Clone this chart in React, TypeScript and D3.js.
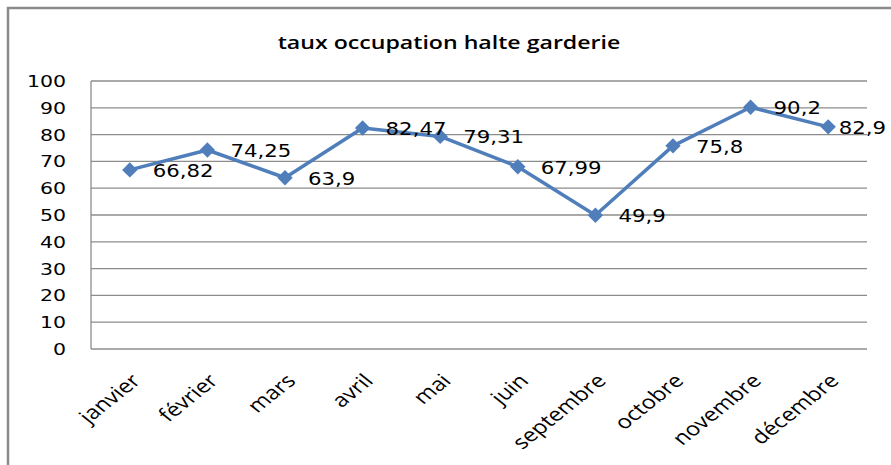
import React from "react";
import * as d3 from "d3";

const months = ["janvier", "février", "mars", "avril", "mai", "juin", "septembre", "octobre", "novembre", "décembre"];
const values = [66.82, 74.25, 63.9, 82.47, 79.31, 67.99, 49.9, 75.8, 90.2, 82.9];
const valueLabels = ["66,82", "74,25", "63,9", "82,47", "79,31", "67,99", "49,9", "75,8", "90,2", "82,9"];
const yTicks = [0, 10, 20, 30, 40, 50, 60, 70, 80, 90, 100];
const title = "taux occupation halte garderie";

const W = 891, H = 465;
const plot = { left: 91, right: 867, top: 81, bottom: 349 };
const color = "#4F7EBB";
const numFont = "'DejaVu Sans', Verdana, sans-serif";
const txtFont = "'Open Sans', Lato, sans-serif";
const stretch = 1.25;
const labelFont = 17;

function estWidth(s: string) {
  let w = 0;
  for (const c of s) w += c === "," ? 0.318 : 0.636;
  return w * labelFont * stretch;
}

export default function App() {
  const x = d3.scaleBand<string>().domain(months).range([plot.left, plot.right]);
  const y = d3.scaleLinear().domain([0, 100]).range([plot.bottom, plot.top]);
  const cx = (m: string) => (x(m) as number) + x.bandwidth() / 2;
  const line = d3.line<number>().x((_, i) => cx(months[i])).y((d) => y(d));
  const diamond = d3.symbol().type(d3.symbolDiamond2).size(150)() as string;

  return (
    <svg width={W} height={H} style={{ position: "absolute", left: 0, top: 0, background: "#fff" }}>
      <rect x={8} y={8} width={W + 20} height={H + 20} fill="#fff" stroke="#8a8a8a" strokeWidth={2.5} />
      <text
        transform={`translate(449,49) scale(${stretch},1)`}
        textAnchor="middle"
        fontFamily={txtFont}
        fontWeight={600}
        fontSize={18.5}
        fill="#000"
      >
        {title}
      </text>
      {yTicks.map((t) => (
        <g key={t}>
          <line x1={plot.left} x2={plot.right} y1={y(t)} y2={y(t)} stroke="#8c8c8c" strokeWidth={1.3} />
          <text
            transform={`translate(66,${y(t) + 6}) scale(1.28,1)`}
            textAnchor="end"
            fontFamily={numFont}
            fontSize={16}
            fill="#000"
          >
            {t}
          </text>
        </g>
      ))}
      <line x1={plot.left} x2={plot.left} y1={plot.top} y2={plot.bottom} stroke="#8c8c8c" strokeWidth={1.3} />
      {months.map((m) => (
        <text
          key={m}
          transform={`translate(${cx(m) + 12},${plot.bottom + 33}) scale(${stretch},1) rotate(-45)`}
          textAnchor="end"
          fontFamily={txtFont}
          fontSize={19}
          fill="#000"
        >
          {m}
        </text>
      ))}
      <path d={line(values) as string} fill="none" stroke={color} strokeWidth={3.5} strokeLinejoin="round" />
      {values.map((v, i) => (
        <path key={i} d={diamond} transform={`translate(${cx(months[i])},${y(v)})`} fill={color} />
      ))}
      {values.map((v, i) => {
        const lx = Math.min(cx(months[i]) + 23, 886 - estWidth(valueLabels[i]));
        return (
          <text
            key={"l" + i}
            transform={`translate(${lx},${y(v) + 7}) scale(${stretch},1)`}
            fontFamily={numFont}
            fontSize={labelFont}
            fill="#000"
          >
            {valueLabels[i]}
          </text>
        );
      })}
    </svg>
  );
}
